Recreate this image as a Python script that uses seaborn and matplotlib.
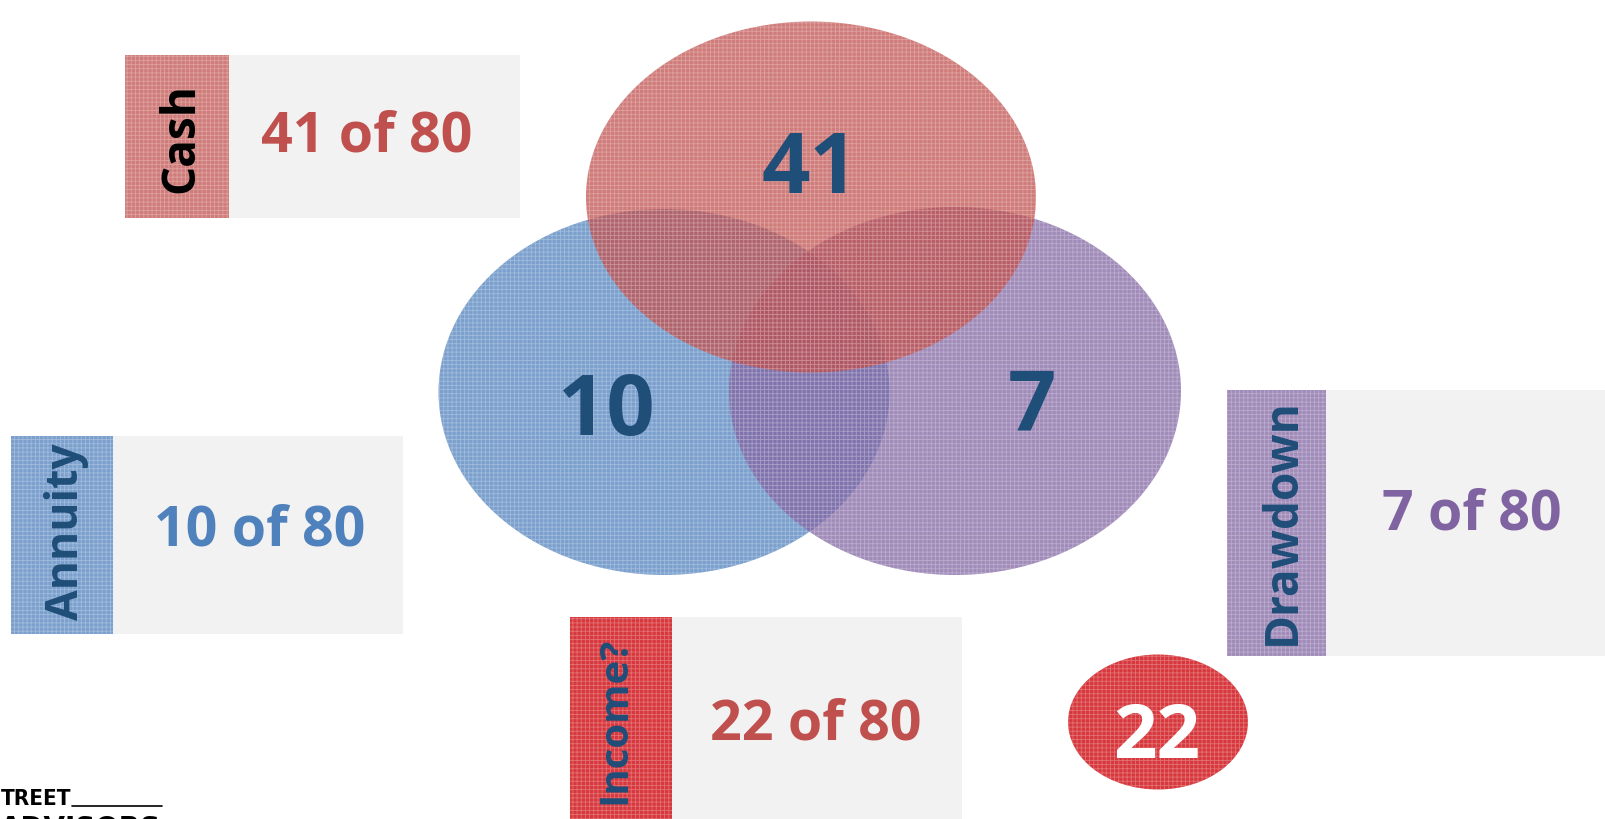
import matplotlib.pyplot as plt
import seaborn as sns
from matplotlib.patches import Ellipse, Rectangle

# Survey results: how many of the 80 respondents picked each option
categories = ["Cash", "Annuity", "Drawdown", "Income?"]
counts = [41, 10, 7, 22]
total = 80
label_colors = ["#000000", "#1F4E79", "#1F4E79", "#1F4E79"]
value_colors = ["#C0504D", "#4F81BD", "#8064A2", "#C0504D"]
fill_colors = ["#C0504D", "#4F81BD", "#8064A2", "#D7383D"]

sns.set_theme(style="white")
plt.rcParams['font.family'] = ['Open Sans', 'DejaVu Sans']
plt.rcParams['hatch.linewidth'] = 0.6

fig = plt.figure(figsize=(16.06, 8.2), dpi=100)
ax = fig.add_axes([0, 0, 1, 1])
ax.set_xlim(0, 1606)
ax.set_ylim(820, 0)
ax.axis('off')


def textured(patch_cls, *args, color, alpha=1.0, z=1, **kw):
    # solid fill plus a fine light grid on top, like the Office pattern fill
    ax.add_patch(patch_cls(*args, facecolor=color, edgecolor='none', alpha=alpha, zorder=z, **kw))
    ax.add_patch(patch_cls(*args, facecolor='none', edgecolor=(1, 1, 1, 0.28), linewidth=0,
                           hatch='++++', zorder=z + 0.1, **kw))


# Venn circles (blue, purple underneath, red on top)
venn = {
    "Annuity": (664, 393, 451, 366),
    "Drawdown": (955, 392, 452, 368),
    "Cash": (811, 198, 450, 351),
}
venn_num_pos = {"Cash": (810, 193), "Annuity": (606, 435), "Drawdown": (1032, 431)}
for z, name in enumerate(["Annuity", "Drawdown", "Cash"]):
    i = categories.index(name)
    cx, cy, w, h = venn[name]
    textured(Ellipse, (cx, cy), w, h, color=fill_colors[i], alpha=0.75, z=2 + z)
for name, (x, y) in venn_num_pos.items():
    i = categories.index(name)
    ax.text(x, y, str(counts[i]), color="#1F4E79", fontsize=61, fontweight='bold',
            ha='center', va='baseline', zorder=10)

# label cards: coloured strip with vertical name, grey box with "n of 80"
# (x0, y0, strip width, height, card width, label baseline x, label centre y, label size, value x, value baseline)
cards = {
    "Cash": (125, 56, 104, 163, 395, 193, 138, 33, 367, 152),
    "Annuity": (11, 437, 102, 198, 392, 78, 532, 32, 260, 546),
    "Drawdown": (1227, 391, 99, 266, 380, 1295, 522, 33, 1472, 530),
    "Income?": (570, 618, 102, 202, 392, 625, 720, 29, 816, 740),
}
for name, (x0, y0, sw, h, gw, bx, by, fs, tx, ty) in cards.items():
    i = categories.index(name)
    ax.add_patch(Rectangle((x0 + sw, y0), gw - sw, h, facecolor="#F2F2F2", edgecolor='none', zorder=1))
    textured(Rectangle, (x0, y0), sw, h, color=fill_colors[i], alpha=0.75 if i < 3 else 1.0, z=1)
    ax.text(bx, by, name, rotation=90, rotation_mode='anchor',
            ha='center', va='baseline', color=label_colors[i], fontsize=fs, fontweight='bold', zorder=10)
    ax.text(tx, ty, f"{counts[i]} of {total}", color=value_colors[i], fontsize=40,
            fontweight='bold', ha='center', va='baseline', zorder=10)

# the "Income?" count sits in its own red bubble
textured(Ellipse, (1158, 723), 180, 135, color=fill_colors[3], z=2)
ax.text(1157, 758, str(counts[3]), color='white', fontsize=55, fontweight='bold',
        ha='center', va='baseline', zorder=10)

# logo fragment bottom-left
ax.text(1, 805, "TREET", color='black', fontsize=16, fontweight='bold', fontstretch='condensed',
        family=['DejaVu Sans'], ha='left', va='baseline', zorder=10)
ax.plot([72, 162], [807, 807], color='black', linewidth=1.2, zorder=10)
ax.text(0, 815, "ADVISORS", color='black', fontsize=20, fontweight='bold',
        family=['DejaVu Sans'], ha='left', va='top', zorder=10)

fig.savefig("out.png", dpi=100)
